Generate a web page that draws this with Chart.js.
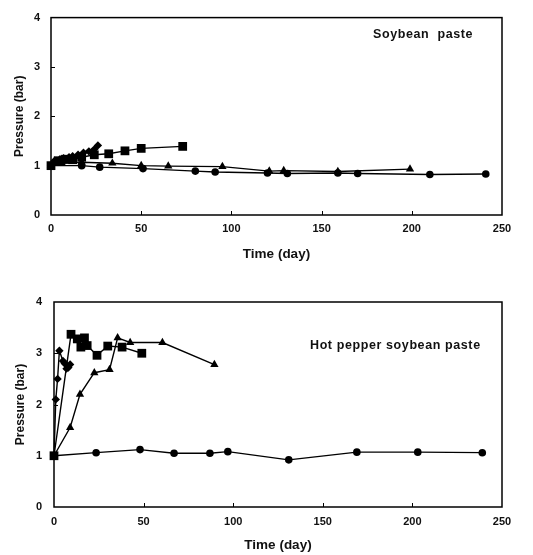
<!DOCTYPE html>
<html>
<head>
<meta charset="utf-8">
<script src="https://cdn.jsdelivr.net/npm/chart.js@4.4.1/dist/chart.umd.min.js"></script>
<style>
  html, body { margin: 0; padding: 0; background: #fff; }
  #wrap { position: relative; width: 533px; height: 555px; overflow: hidden; background: #fff; }
  .panel { position: absolute; left: 0; width: 533px; }
  .note { position: absolute; font: bold 12.5px "Liberation Sans", Arial, sans-serif; letter-spacing: 0.6px; color: #111; white-space: pre; }
</style>
</head>
<body>
<div id="wrap">
  <div class="panel" style="top:0;height:272px"><canvas id="soy" width="533" height="272"></canvas></div>
  <div class="panel" style="top:280px;height:275px"><canvas id="hot" width="533" height="275"></canvas></div>
  <div class="note" style="left:373px;top:27px">Soybean  paste</div>
  <div class="note" style="left:310px;top:338px">Hot pepper soybean paste</div>
</div>
<script>
// Axis ticks
const dayTicks = [0, 50, 100, 150, 200, 250];
const barTicks = [0, 1, 2, 3, 4];

// Soybean paste: storage day vs. package pressure (bar)
const soySquareDays = [0, 4, 8, 12, 17, 24, 32, 41, 50, 73];
const soySquareBar  = [1.0, 1.1, 1.13, 1.12, 1.17, 1.22, 1.24, 1.30, 1.35, 1.39];
const soyDiamondDays = [0, 2, 5, 7, 10, 12, 15, 18, 21, 24, 26];
const soyDiamondBar  = [1.0, 1.1, 1.13, 1.15, 1.17, 1.19, 1.22, 1.26, 1.29, 1.33, 1.41];
const soyTriangleDays = [0, 6, 17, 34, 50, 65, 95, 121, 129, 159, 199];
const soyTriangleBar  = [1.0, 1.05, 1.07, 1.05, 1.0, 0.99, 0.98, 0.89, 0.9, 0.88, 0.93];
const soyCircleDays = [0, 17, 27, 51, 80, 91, 120, 131, 159, 170, 210, 241];
const soyCircleBar  = [1.0, 1.0, 0.97, 0.94, 0.89, 0.87, 0.85, 0.84, 0.85, 0.84, 0.82, 0.83];

// Hot pepper soybean paste
const hotSquareDays = [0, 9.5, 13, 15, 17, 18.5, 24, 30, 38, 49];
const hotSquareBar  = [1.0, 3.37, 3.28, 3.12, 3.3, 3.15, 2.96, 3.14, 3.12, 3.0];
const hotDiamondDays = [0, 1, 2, 3, 5, 6, 7, 8, 9];
const hotDiamondBar  = [1.0, 2.1, 2.5, 3.05, 2.85, 2.8, 2.7, 2.72, 2.78];
const hotTriangleDays = [0, 9, 14.5, 22.5, 31, 35.5, 42.5, 60.5, 89.5];
const hotTriangleBar  = [1.0, 1.55, 2.2, 2.62, 2.68, 3.3, 3.21, 3.21, 2.78];
const hotCircleDays = [0, 23.5, 48, 67, 87, 97, 131, 169, 203, 239];
const hotCircleBar  = [1.0, 1.06, 1.12, 1.05, 1.05, 1.08, 0.92, 1.07, 1.07, 1.06];

const pts = (xs, ys) => xs.map((x, i) => ({ x, y: ys[i] }));

const marker = {
  square:   { pointStyle: 'rect', pointRadius: 6.2 },
  diamond:  { pointStyle: 'rectRot', pointRadius: 4.2 },
  triangle: { pointStyle: 'triangle', pointRadius: 4.8 },
  circle:   { pointStyle: 'circle', pointRadius: 3.8 }
};

function series(xs, ys, kind) {
  return Object.assign({
    data: pts(xs, ys),
    borderColor: '#000',
    backgroundColor: '#000',
    pointBackgroundColor: '#000',
    pointBorderColor: '#000',
    borderWidth: 1.4,
    pointBorderWidth: 0,
    tension: 0,
    clip: false
  }, marker[kind]);
}

// Closed frame around the plot plus short inward tick marks
const frame = {
  id: 'frame',
  beforeDatasetsDraw(chart) {
    const { ctx, chartArea: a, scales: { x, y } } = chart;
    ctx.save();
    ctx.strokeStyle = '#000';
    ctx.lineWidth = 1.5;
    ctx.strokeRect(a.left, a.top, a.right - a.left, a.bottom - a.top);
    ctx.lineWidth = 1;
    ctx.beginPath();
    y.ticks.forEach(t => {
      if (t.value <= 0 || t.value >= 4) return;
      const py = Math.round(y.getPixelForValue(t.value)) + 0.5;
      ctx.moveTo(a.left, py); ctx.lineTo(a.left + 4, py);
    });
    x.ticks.forEach(t => {
      if (t.value <= 0 || t.value >= 250) return;
      const px = Math.round(x.getPixelForValue(t.value)) + 0.5;
      ctx.moveTo(px, a.bottom); ctx.lineTo(px, a.bottom - 4);
    });
    ctx.stroke();
    ctx.restore();
  }
};

const tickFont = { family: '"Liberation Sans", Arial, sans-serif', size: 11, weight: 'bold' };
const xTitleFont = { family: '"Liberation Sans", Arial, sans-serif', size: 13.5, weight: 'bold' };
const yTitleFont = { family: '"Liberation Sans", Arial, sans-serif', size: 12, weight: 'bold' };

function makeChart(id, datasets, geo) {
  return new Chart(document.getElementById(id), {
    type: 'line',
    data: { datasets },
    plugins: [frame],
    options: {
      responsive: false,
      animation: false,
      events: [],
      layout: { padding: { top: geo.top, right: geo.right, left: 0, bottom: 0 } },
      plugins: { legend: { display: false }, tooltip: { enabled: false } },
      scales: {
        x: {
          type: 'linear', min: 0, max: 250,
          afterBuildTicks: s => { s.ticks = dayTicks.map(v => ({ value: v })); },
          afterFit: s => { s.height = geo.xHeight; },
          grid: { display: false, drawTicks: false },
          border: { display: false },
          ticks: { font: tickFont, color: '#111', padding: geo.xPad, maxRotation: 0 },
          title: { display: true, text: 'Time (day)', font: xTitleFont, color: '#111',
                   padding: { top: 0, bottom: geo.xTitlePad } }
        },
        y: {
          type: 'linear', min: 0, max: 4,
          afterBuildTicks: s => { s.ticks = barTicks.map(v => ({ value: v })); },
          afterFit: s => { s.width = geo.yWidth; },
          grid: { display: false, drawTicks: false },
          border: { display: false },
          ticks: { font: tickFont, color: '#111', padding: geo.yPad },
          title: { display: true, text: 'Pressure (bar)', font: yTitleFont, color: '#111',
                   padding: { top: geo.yTitlePad, bottom: 0 } }
        }
      }
    }
  });
}

makeChart('soy', [
  series(soyCircleDays, soyCircleBar, 'circle'),
  series(soyTriangleDays, soyTriangleBar, 'triangle'),
  series(soySquareDays, soySquareBar, 'square'),
  series(soyDiamondDays, soyDiamondBar, 'diamond')
], { top: 9, right: 31, xHeight: 57, xPad: 7, xTitlePad: 10, yWidth: 51, yPad: 11, yTitlePad: 12 });

makeChart('hot', [
  series(hotCircleDays, hotCircleBar, 'circle'),
  series(hotTriangleDays, hotTriangleBar, 'triangle'),
  series(hotSquareDays, hotSquareBar, 'square'),
  series(hotDiamondDays, hotDiamondBar, 'diamond')
], { top: 22, right: 31, xHeight: 48, xPad: 8, xTitlePad: 2, yWidth: 54, yPad: 12, yTitlePad: 13 });
</script>
</body>
</html>
